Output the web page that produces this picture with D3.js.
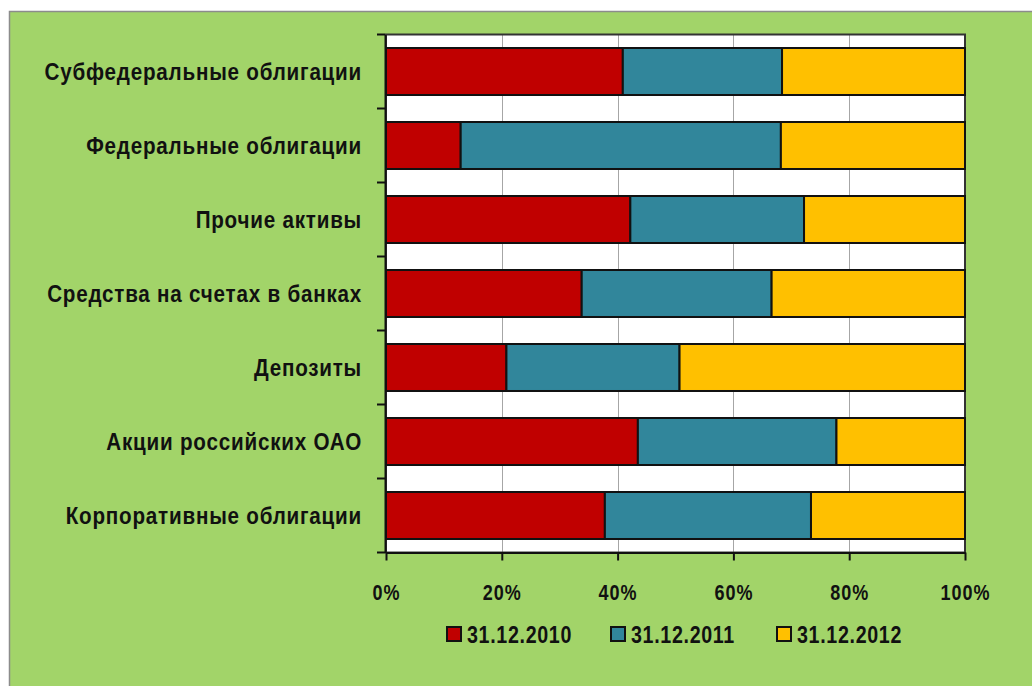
<!DOCTYPE html>
<html>
<head>
  <meta charset="utf-8">
  <style>
    body { margin: 0; background: #fff; }
    svg text {
      font-family: "Liberation Sans", Arial, sans-serif;
      font-weight: bold;
      fill: #111;
      white-space: pre;
    }
    svg .grid { stroke: #a6a6a6; stroke-width: 1px; }
  </style>
</head>
<body>
<script src="https://cdn.jsdelivr.net/npm/d3@7"></script>
<script>
  // categories top to bottom, shares in %
  var categories = [
    "Субфедеральные облигации",
    "Федеральные облигации",
    "Прочие активы",
    "Средства на счетах в банках",
    "Депозиты",
    "Акции российских ОАО",
    "Корпоративные облигации"
  ];
  var v2010 = [40.9, 12.9, 42.2, 33.8, 20.8, 43.5, 37.8];
  var v2011 = [27.5, 55.3, 30.0, 32.8, 29.9, 34.3, 35.6];
  var v2012 = [31.6, 31.8, 27.8, 33.4, 49.3, 22.2, 26.6];
  var seriesNames = ["31.12.2010", "31.12.2011", "31.12.2012"];
  var seriesColors = ["#c00000", "#31869b", "#ffc000"];
  var xTicks = [0, 20, 40, 60, 80, 100];

  var W = 1032, H = 686;
  var plot = { left: 386, right: 965, top: 34.5, bottom: 552.5 };
  var narrow = 0.82;   // Arial Narrow look: squeeze Liberation Sans

  var svg = d3.select("body").append("svg")
      .attr("width", W)
      .attr("height", H);

  // outer frame
  svg.append("rect")
      .attr("x", 9.5).attr("y", 11.5)
      .attr("width", W + 10).attr("height", H + 10)
      .style("fill", "#a2d469")
      .style("stroke", "#8c8c8c")
      .style("stroke-width", "1.5px");

  var rows = categories.map(function (c, i) {
    return { cat: c, s0: v2010[i], s1: v2011[i], s2: v2012[i] };
  });
  var stacked = d3.stack().keys(["s0", "s1", "s2"])
    .offset(d3.stackOffsetExpand)(rows);

  var xScale = d3.scaleLinear().domain([0, 1]).range([plot.left, plot.right]);
  var yScale = d3.scaleBand().domain(categories)
      .range([plot.top, plot.bottom])
      .paddingInner(0.365).paddingOuter(0.1825);
  var yEdges = d3.scaleBand().domain(categories).range([plot.top, plot.bottom]);

  // plot area
  svg.append("rect")
      .attr("x", plot.left).attr("y", plot.top)
      .attr("width", plot.right - plot.left)
      .attr("height", plot.bottom - plot.top)
      .style("fill", "#fff");

  // vertical grid lines
  svg.selectAll("line.grid")
    .data(xTicks.slice(1, -1))
    .enter().append("line")
      .classed("grid", true)
      .attr("x1", function (d) { return Math.round(xScale(d / 100)) + 0.5; })
      .attr("x2", function (d) { return Math.round(xScale(d / 100)) + 0.5; })
      .attr("y1", plot.top)
      .attr("y2", plot.bottom);

  svg.append("rect")
      .attr("x", plot.left).attr("y", plot.top)
      .attr("width", plot.right - plot.left)
      .attr("height", plot.bottom - plot.top)
      .style("fill", "none")
      .style("stroke", "#333")
      .style("stroke-width", "2px");

  // bars
  svg.selectAll("g.series")
    .data(stacked)
    .enter().append("g")
      .classed("series", true)
      .style("fill", function (d, i) { return seriesColors[i]; })
    .selectAll("rect")
    .data(function (d) { return d; })
    .enter().append("rect")
      .attr("x", function (d) { return xScale(d[0]); })
      .attr("width", function (d) { return xScale(d[1]) - xScale(d[0]); })
      .attr("y", function (d) { return yScale(d.data.cat); })
      .attr("height", yScale.bandwidth())
      .style("stroke", "#111")
      .style("stroke-width", "2px");

  // y axis (ticks between categories)
  var ya = svg.append("g")
      .attr("transform", "translate(" + (plot.left - 1) + ",0)")
      .call(d3.axisLeft(yEdges).tickSize(0).tickSizeOuter(0).tickFormat(""));
  ya.selectAll(".tick").remove();
  ya.selectAll("line.edge")
    .data(d3.range(categories.length + 1))
    .enter().append("line")
      .attr("x1", -8).attr("x2", 0)
      .attr("y1", function (i) { return plot.top + i * yEdges.step(); })
      .attr("y2", function (i) { return plot.top + i * yEdges.step(); })
      .style("stroke", "#111").style("stroke-width", "2px");
  ya.select(".domain").style("stroke", "#111").style("stroke-width", "2px");

  // category labels
  svg.selectAll("g.cat")
    .data(categories)
    .enter().append("g")
      .classed("cat", true)
      .attr("transform", function (d) {
        return "translate(362," + (yEdges(d) + yEdges.bandwidth() / 2) + ") scale(0.86,1)";
      })
    .append("text")
      .attr("dy", "0.36em")
      .style("text-anchor", "end")
      .style("font-size", "24px")
      .style("letter-spacing", "0.9px")
      .text(function (d) { return d; });

  // x axis
  var xAxis = d3.axisBottom(xScale)
      .tickValues(xTicks.map(function (d) { return d / 100; }))
      .tickSize(8).tickSizeOuter(0)
      .tickFormat(function (d) { return Math.round(d * 100) + "%"; });
  var xa = svg.append("g")
      .attr("transform", "translate(0," + plot.bottom + ")")
      .call(xAxis)
      .attr("font-family", null)
      .attr("font-size", null);
  xa.select(".domain").style("stroke", "#111").style("stroke-width", "2px");
  xa.selectAll(".tick line").style("stroke", "#111").style("stroke-width", "2px");
  xa.selectAll(".tick text")
      .attr("y", 0)
      .attr("dy", 0)
      .attr("transform", "translate(0,47) scale(" + narrow + ",1)")
      .style("font-size", "22px")
      .style("letter-spacing", "1.2px");

  // legend
  var legendX = [447, 611, 777];
  var legend = svg.selectAll("g.legend")
    .data(seriesNames)
    .enter().append("g")
      .classed("legend", true)
      .attr("transform", function (d, i) { return "translate(" + legendX[i] + ",627)"; });
  legend.append("rect")
      .attr("width", 14).attr("height", 14)
      .style("fill", function (d, i) { return seriesColors[i]; })
      .style("stroke", "#111").style("stroke-width", "2px");
  legend.append("text")
      .attr("transform", "translate(20,16) scale(" + narrow + ",1)")
      .style("font-size", "24px")
      .style("letter-spacing", "0.8px")
      .text(function (d) { return d; });
</script>
</body>
</html>
